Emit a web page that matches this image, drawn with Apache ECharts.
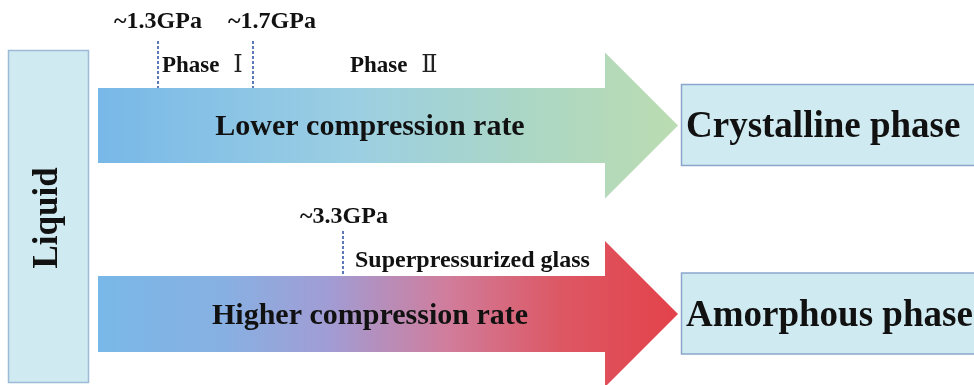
<!DOCTYPE html>
<html>
<head>
<meta charset="utf-8">
<script src="https://cdn.jsdelivr.net/npm/echarts@6/dist/echarts.min.js"></script>
<style>
  html, body { margin: 0; padding: 0; background: #fff; }
  #chart { width: 974px; height: 385px; }
</style>
</head>
<body>
<div id="chart"></div>
<script>
// 数据
var startState = 'Liquid'
var routes = ['Lower compression rate', 'Higher compression rate']
var endStates = ['Crystalline phase', 'Amorphous phase']
// 压力节点：route 序号、标注、阶段文字
var markerRoute = [0, 0, 1]
var markerLabels = ['~1.3GPa', '~1.7GPa', '~3.3GPa']
var stageLabels = ['Phase {n|Ⅰ}', 'Phase {n|Ⅱ}', 'Superpressurized glass']

// 布局
var FONT = '"Liberation Serif", "Times New Roman", "Noto Sans CJK SC", serif'
var arrowLeft = 98
var headBase = 605
var tipX = 678
var routeCenter = [125.5, 314]
var shaftHalf = [37.5, 38]
var headHalf = 73
var markerX = [158, 253, 343]
var markerTop = [41, 41, 231]
var markerLabelPos = [[158, 22], [272, 22], [344, 217]]
var stagePos = [[162, 66], [350, 66], [355, 261]]
var stageSize = [23, 23, 24]
var gradients = [
  [
    { offset: 0, color: '#78b8e8' },
    { offset: 0.45, color: '#9ccfe2' },
    { offset: 0.75, color: '#acd7c4' },
    { offset: 1, color: '#bbdcb1' }
  ],
  [
    { offset: 0, color: '#78b8e8' },
    { offset: 0.22, color: '#88b0e2' },
    { offset: 0.4, color: '#a19cd4' },
    { offset: 0.6, color: '#d07d9c' },
    { offset: 0.8, color: '#dd5763' },
    { offset: 1, color: '#e3424a' }
  ]
]

function arrowPoints(i) {
  var c = routeCenter[i]
  var s = shaftHalf[i]
  return [
    [arrowLeft, c - s], [headBase, c - s], [headBase, c - headHalf],
    [tipX, c], [headBase, c + headHalf], [headBase, c + s], [arrowLeft, c + s]
  ]
}

var elements = []

// Liquid 方框
elements.push({
  type: 'rect',
  shape: { x: 8.5, y: 50.5, width: 80, height: 332 },
  style: { fill: '#cfeaf1', stroke: '#9dbad6', lineWidth: 1.5 }
})
elements.push({
  type: 'text',
  x: 48, y: 218, rotation: Math.PI / 2,
  style: {
    text: startState, font: 'bold 35px ' + FONT, fill: '#111',
    align: 'center', verticalAlign: 'middle'
  }
})

routes.forEach(function (name, i) {
  elements.push({
    type: 'polygon',
    shape: { points: arrowPoints(i) },
    style: { fill: new echarts.graphic.LinearGradient(0, 0, 1, 0, gradients[i]) }
  })
  elements.push({
    type: 'text',
    x: 370, y: routeCenter[i] + 2,
    style: {
      text: name, font: 'bold 30px ' + FONT, fill: '#111',
      align: 'center', verticalAlign: 'middle'
    }
  })
  // 结果方框
  var c = routeCenter[i]
  elements.push({
    type: 'rect',
    shape: { x: 681.5, y: c - 41, width: 300, height: 81 },
    style: { fill: '#cfeaf1', stroke: '#8aa6cc', lineWidth: 1.5 }
  })
  elements.push({
    type: 'text',
    x: 686, y: c + 2,
    style: {
      text: endStates[i], font: 'bold 37px ' + FONT, fill: '#111',
      align: 'left', verticalAlign: 'middle'
    }
  })
})

markerLabels.forEach(function (label, i) {
  var c = routeCenter[markerRoute[i]]
  elements.push({
    type: 'line',
    shape: { x1: markerX[i], y1: markerTop[i], x2: markerX[i], y2: c - shaftHalf[markerRoute[i]] },
    style: { stroke: '#4a6cb0', lineWidth: 1.8, lineDash: [3, 2] }
  })
  elements.push({
    type: 'text',
    x: markerLabelPos[i][0], y: markerLabelPos[i][1],
    style: {
      text: label, font: 'bold 24px ' + FONT, fill: '#111',
      align: 'center', verticalAlign: 'middle'
    }
  })
})

stageLabels.forEach(function (label, i) {
  elements.push({
    type: 'text',
    x: stagePos[i][0], y: stagePos[i][1],
    style: {
      text: label, font: 'bold ' + stageSize[i] + 'px ' + FONT, fill: '#111',
      align: 'left', verticalAlign: 'middle',
      rich: {
        n: {
          fontFamily: '"DejaVu Serif", "Liberation Serif", serif', fontWeight: 'normal',
          fontSize: 24, fill: '#222', padding: [0, 0, 0, 8]
        }
      }
    }
  })
})

var chart = echarts.init(document.getElementById('chart'))
chart.setOption({
  backgroundColor: '#fff',
  animation: false,
  graphic: { elements: elements }
})
</script>
</body>
</html>
